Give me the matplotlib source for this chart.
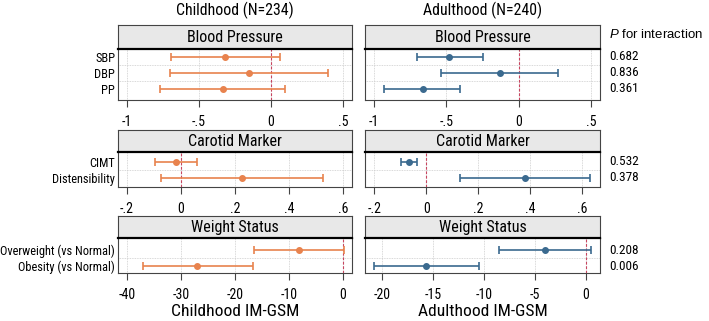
import matplotlib
matplotlib.use("Agg")
import matplotlib.pyplot as plt
from matplotlib import font_manager

names = {f.name for f in font_manager.fontManager.ttflist}
FONT = "Roboto Condensed" if "Roboto Condensed" in names else "Liberation Sans"
plt.rcParams['font.family'] = [FONT, 'DejaVu Sans']
plt.rcParams['mathtext.fontset'] = 'custom'
plt.rcParams['mathtext.it'] = 'Liberation Sans:italic'
plt.rcParams['mathtext.rm'] = 'Liberation Sans'

# ---------------- data ----------------
panels = ["Blood Pressure", "Carotid Marker", "Weight Status"]
bp_labels = ["SBP", "DBP", "PP"]
car_labels = ["CIMT", "Distensibility"]
wt_labels = ["Overweight (vs Normal)", "Obesity (vs Normal)"]

child_bp_est = [-0.32, -0.153, -0.333]
child_bp_lo = [-0.697, -0.70, -0.77]
child_bp_hi = [0.06, 0.397, 0.10]
adult_bp_est = [-0.479, -0.132, -0.664]
adult_bp_lo = [-0.705, -0.537, -0.93]
adult_bp_hi = [-0.248, 0.273, -0.403]

child_car_est = [-0.019, 0.225]
child_car_lo = [-0.096, -0.074]
child_car_hi = [0.06, 0.525]
adult_car_est = [-0.067, 0.381]
adult_car_lo = [-0.0965, 0.131]
adult_car_hi = [-0.035, 0.631]

child_wt_est = [-8.1, -27.0]
child_wt_lo = [-16.5, -37.1]
child_wt_hi = [0.2, -16.7]
adult_wt_est = [-4.0, -15.7]
adult_wt_lo = [-8.5, -20.75]
adult_wt_hi = [0.46, -10.46]

p_bp = ["0.682", "0.836", "0.361"]
p_car = ["0.532", "0.378"]
p_wt = ["0.208", "0.006"]

bp_ticks = [-1, -0.5, 0, 0.5]
bp_ticklabels = ["-1", "-.5", "0", ".5"]
car_ticks = [-0.2, 0, 0.2, 0.4, 0.6]
car_ticklabels = ["-.2", "0", ".2", ".4", ".6"]
child_wt_ticks = [-40, -30, -20, -10, 0]
adult_wt_ticks = [-20, -15, -10, -5, 0]

ORANGE = "#E8834E"
BLUE = "#3B6A8F"
RED = "#C8455F"

W, H = 709, 321
fig = plt.figure(figsize=(W / 100, H / 100), dpi=100)


def px_axes(x0, y0, x1, y1):
    return fig.add_axes([x0 / W, 1 - y1 / H, (x1 - x0) / W, (y1 - y0) / H])


def header(x0, x1, y0, y1, text):
    ax = px_axes(x0, y0, x1, y1)
    ax.set_facecolor("#e8e8e8")
    ax.set_xticks([])
    ax.set_yticks([])
    for s in ax.spines.values():
        s.set_color("#444444")
        s.set_linewidth(0.8)
    ax.text(0.5, 0.47, text, ha="center", va="center", fontsize=11.5,
            transform=ax.transAxes)
    return ax


def panel(x0, x1, y0, y1, est, lo, hi, color, ylim, xlim, ticks, ticklabels,
          ylabels=None):
    ax = px_axes(x0, y0, x1, y1)
    n = len(est)
    ys = list(range(n))
    for t in ticks:
        ax.axvline(t, color="#cccccc", lw=0.6, ls=(0, (1, 1)), zorder=0)
    for k in range(n - 1):
        ax.axhline(k + 0.5, color="#cccccc", lw=0.6, ls=(0, (1, 1)), zorder=0)
    ax.axvline(0, color=RED, lw=0.8, ls=(0, (2.5, 1.5)), zorder=1)
    xerr = [[e - l for e, l in zip(est, lo)], [h - e for e, h in zip(est, hi)]]
    ax.errorbar(est, ys, xerr=xerr, fmt="o", color=color, ms=4, lw=1.2,
                capsize=3, capthick=1.2, zorder=3)
    ax.set_ylim(*ylim)
    ax.set_xlim(*xlim)
    ax.set_xticks(ticks)
    ax.set_xticklabels(ticklabels)
    ax.tick_params(axis="x", direction="out", length=5, width=0.8,
                   color="#444444", labelsize=10, pad=6)
    if ylabels is not None:
        ax.set_yticks(ys)
        ax.set_yticklabels(ylabels)
        ax.tick_params(axis="y", length=0, labelsize=8.9, pad=2)
    else:
        ax.set_yticks([])
    for s in ax.spines.values():
        s.set_color("#444444")
        s.set_linewidth(0.8)
    ax.spines["top"].set_color("black")
    ax.spines["top"].set_linewidth(1.6)
    return ax


LX0, LX1 = 118, 352
RX0, RX1 = 365, 600

# Blood pressure
for x0, x1 in [(LX0, LX1), (RX0, RX1)]:
    header(x0, x1, 25, 49, panels[0])
panel(LX0, LX1, 49, 100, child_bp_est, child_bp_lo, child_bp_hi, ORANGE,
      (2.69, -0.5), (-1.0625, 0.5625), bp_ticks, bp_ticklabels, bp_labels)
panel(RX0, RX1, 49, 100, adult_bp_est, adult_bp_lo, adult_bp_hi, BLUE,
      (2.69, -0.5), (-1.0625, 0.5625), bp_ticks, bp_ticklabels)

# Carotid
for x0, x1 in [(LX0, LX1), (RX0, RX1)]:
    header(x0, x1, 130, 152, panels[1])
panel(LX0, LX1, 152, 187, child_car_est, child_car_lo, child_car_hi, ORANGE,
      (1.58, -0.6), (-0.233, 0.633), car_ticks, car_ticklabels, car_labels)
panel(RX0, RX1, 152, 187, adult_car_est, adult_car_lo, adult_car_hi, BLUE,
      (1.58, -0.6), (-0.236, 0.668), car_ticks, car_ticklabels)

# Weight
for x0, x1 in [(LX0, LX1), (RX0, RX1)]:
    header(x0, x1, 216, 238, panels[2])
panel(LX0, LX1, 238, 273, child_wt_est, child_wt_lo, child_wt_hi, ORANGE,
      (1.45, -0.75), (-41.67, 1.67), child_wt_ticks,
      [str(t) for t in child_wt_ticks], wt_labels)
panel(RX0, RX1, 238, 273, adult_wt_est, adult_wt_lo, adult_wt_hi, BLUE,
      (1.45, -0.75), (-21.67, 1.37), adult_wt_ticks,
      [str(t) for t in adult_wt_ticks])

# titles
fig.text((LX0 + LX1) / 2 / W, 1 - 10 / H, "Childhood (N=234)", ha="center",
         va="center", fontsize=11.4)
fig.text((RX0 + RX1) / 2 / W, 1 - 10 / H, "Adulthood (N=240)", ha="center",
         va="center", fontsize=11.4)
fig.text((LX0 + LX1) / 2 / W, 1 - 311 / H, "Childhood IM-GSM", ha="center",
         va="center", fontsize=12.6)
fig.text((RX0 + RX1) / 2 / W, 1 - 311 / H, "Adulthood IM-GSM", ha="center",
         va="center", fontsize=12.6)

# P for interaction
PX = 609
fig.text(PX / W, 1 - 34 / H, r"$\it{P}$ for interaction", ha="left",
         va="center", fontsize=9.5, family=["Liberation Sans", "DejaVu Sans"])
for vals, rows in [(p_bp, [57, 73, 89]), (p_car, [161.7, 177.7]),
                   (p_wt, [250, 266])]:
    for v, y in zip(vals, rows):
        fig.text(PX / W, 1 - y / H, v, ha="left", va="center", fontsize=9.5)

fig.savefig("out.png", dpi=100)
